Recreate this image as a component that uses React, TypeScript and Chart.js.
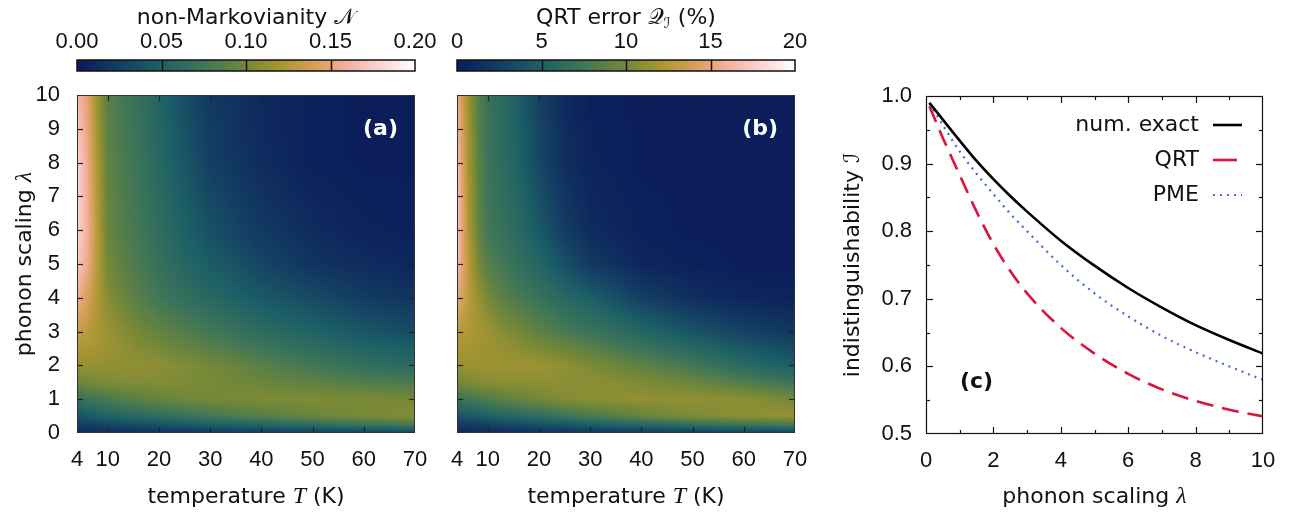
import React, { useEffect, useRef } from "react";
import { Chart, registerables } from "chart.js";

Chart.register(...registerables);

// ---------------- data ----------------
const temperatures = [4, 6, 8, 10, 13, 16, 20, 25, 30, 40, 50, 60, 70];
const lambdaGrid = [0, 0.25, 0.5, 1, 1.5, 2, 2.5, 3, 4, 5, 6, 8, 10];

// rows: lambdaGrid (ascending), columns: temperatures
const nonMarkovianity = [
  [0.008, 0.010, 0.010, 0.012, 0.012, 0.014, 0.016, 0.018, 0.020, 0.022, 0.024, 0.026, 0.028],
  [0.024, 0.026, 0.028, 0.030, 0.034, 0.036, 0.040, 0.044, 0.048, 0.056, 0.064, 0.072, 0.080],
  [0.040, 0.044, 0.048, 0.052, 0.056, 0.060, 0.064, 0.070, 0.076, 0.086, 0.096, 0.102, 0.106],
  [0.066, 0.072, 0.076, 0.080, 0.084, 0.088, 0.094, 0.098, 0.100, 0.104, 0.104, 0.104, 0.100],
  [0.096, 0.100, 0.102, 0.104, 0.106, 0.106, 0.106, 0.104, 0.102, 0.096, 0.090, 0.084, 0.080],
  [0.114, 0.114, 0.114, 0.112, 0.112, 0.112, 0.110, 0.106, 0.100, 0.088, 0.076, 0.066, 0.060],
  [0.124, 0.122, 0.120, 0.116, 0.112, 0.106, 0.102, 0.094, 0.088, 0.074, 0.064, 0.054, 0.048],
  [0.132, 0.128, 0.122, 0.116, 0.108, 0.100, 0.092, 0.084, 0.076, 0.062, 0.052, 0.042, 0.034],
  [0.158, 0.142, 0.124, 0.108, 0.096, 0.086, 0.076, 0.066, 0.058, 0.044, 0.034, 0.024, 0.018],
  [0.172, 0.156, 0.126, 0.100, 0.088, 0.080, 0.068, 0.056, 0.046, 0.030, 0.018, 0.012, 0.008],
  [0.180, 0.160, 0.126, 0.096, 0.084, 0.076, 0.064, 0.050, 0.038, 0.022, 0.012, 0.006, 0.004],
  [0.180, 0.156, 0.122, 0.092, 0.080, 0.072, 0.058, 0.042, 0.026, 0.012, 0.004, 0.002, 0.002],
  [0.164, 0.148, 0.114, 0.088, 0.076, 0.068, 0.054, 0.036, 0.022, 0.010, 0.004, 0.002, 0.002],
];

const qrtError = [
  [0.8, 0.8, 1.0, 1.0, 1.2, 1.2, 1.4, 1.6, 1.8, 2.0, 2.2, 2.4, 2.4],
  [2.2, 2.4, 2.6, 2.8, 3.2, 3.4, 3.8, 4.2, 4.8, 5.8, 6.6, 7.4, 8.0],
  [4.0, 4.4, 4.6, 5.0, 5.4, 5.8, 6.4, 7.2, 8.0, 9.4, 10.4, 11.0, 11.4],
  [7.0, 7.6, 8.0, 8.4, 9.0, 9.4, 10.0, 10.6, 11.0, 11.2, 11.2, 11.0, 10.0],
  [10.0, 10.4, 10.6, 10.8, 11.0, 11.0, 11.0, 11.0, 11.0, 10.4, 9.6, 8.4, 7.2],
  [11.4, 11.6, 11.6, 11.6, 11.6, 11.6, 11.6, 11.2, 10.4, 9.0, 7.6, 6.0, 4.8],
  [12.0, 12.0, 11.8, 11.6, 11.4, 11.0, 10.4, 9.6, 8.8, 7.2, 5.8, 4.4, 3.4],
  [12.8, 12.4, 12.0, 11.6, 10.8, 10.0, 9.0, 8.0, 7.2, 5.6, 4.0, 2.8, 2.0],
  [15.0, 13.2, 11.6, 10.2, 8.8, 8.0, 7.0, 5.8, 4.8, 2.6, 1.4, 0.8, 0.6],
  [16.8, 13.2, 10.4, 8.6, 7.6, 6.6, 5.6, 3.8, 2.2, 0.8, 0.4, 0.2, 0.2],
  [17.2, 12.8, 9.6, 7.6, 6.8, 6.0, 4.4, 2.4, 1.2, 0.4, 0.2, 0.2, 0.2],
  [16.8, 12.4, 9.2, 7.2, 6.2, 5.2, 3.2, 1.4, 0.6, 0.2, 0.2, 0.2, 0.2],
  [15.6, 12.0, 8.8, 7.0, 6.0, 4.8, 2.8, 1.2, 0.4, 0.2, 0.2, 0.2, 0.2],
];

const temperatureTicks = [4, 10, 20, 30, 40, 50, 60, 70];
const lambdaTicks = [0, 1, 2, 3, 4, 5, 6, 7, 8, 9, 10];
const nTicks = [0, 0.05, 0.1, 0.15, 0.2];
const qTicks = [0, 5, 10, 15, 20];

const lambdaSamples = [0.1, 0.5, 1, 1.5, 2, 2.5, 3, 4, 5, 6, 7, 8, 9, 10];
const exactI = [0.990, 0.965, 0.934, 0.904, 0.877, 0.852, 0.829, 0.786, 0.749, 0.716, 0.687, 0.661, 0.639, 0.619];
const qrtI = [0.985, 0.938, 0.883, 0.829, 0.781, 0.741, 0.708, 0.657, 0.619, 0.589, 0.566, 0.549, 0.536, 0.526];
const pmeI = [0.989, 0.957, 0.918, 0.885, 0.855, 0.826, 0.800, 0.750, 0.708, 0.674, 0.645, 0.621, 0.600, 0.580];

const lineXTicks = [0, 2, 4, 6, 8, 10];
const lineXMinor = [1, 3, 5, 7, 9];
const lineYTicks = [0.5, 0.6, 0.7, 0.8, 0.9, 1.0];
const lineYMinor = [0.55, 0.65, 0.75, 0.85, 0.95];

// ---------------- style ----------------
const CMAP: [number, string][] = [
  [0, "#0a1b59"],
  [0.12, "#133c63"],
  [0.25, "#1d6166"],
  [0.37, "#3e7558"],
  [0.5, "#738838"],
  [0.6, "#a69532"],
  [0.68, "#cc9e4e"],
  [0.75, "#e5a676"],
  [0.8, "#f4b0a0"],
  [0.9, "#fcd5d2"],
  [1, "#ffffff"],
];
const hexRgb = (h: string) => [1, 3, 5].map((i) => parseInt(h.slice(i, i + 2), 16));
function cmapRGB(t: number) {
  const v = Math.max(0, Math.min(1, t));
  for (let k = 1; k < CMAP.length; k++) {
    if (v <= CMAP[k][0]) {
      const [p0, c0] = CMAP[k - 1];
      const [p1, c1] = CMAP[k];
      const f = (v - p0) / (p1 - p0);
      const a = hexRgb(c0), b = hexRgb(c1);
      return a.map((x, i) => Math.round(x + (b[i] - x) * f));
    }
  }
  return [255, 255, 255];
}
const LUT = Array.from({ length: 512 }, (_, k) => cmapRGB(k / 511));

const TICK_FONT = { family: "Liberation Sans", size: 22 };
const TXT = "#111";
const TF = '22px "DejaVu Sans"';
const MI = 'italic 24px "Liberation Serif"';
const SC = '22px "DejaVu Sans", "DejaVu Serif", "Noto Sans", serif';
const SCS = '15px "DejaVu Sans", "DejaVu Serif", "Noto Sans", serif';
const BOLD = 'bold 22px "DejaVu Sans"';

type Seg = { t: string; f: string; dy?: number };
function drawRich(ctx: CanvasRenderingContext2D, segs: Seg[], x: number, y: number, align: string, rot = 0, color = TXT) {
  ctx.save();
  ctx.translate(x, y);
  if (rot) ctx.rotate(rot);
  let w = 0;
  const widths = segs.map((s) => {
    ctx.font = s.f;
    const m = ctx.measureText(s.t).width;
    w += m;
    return m;
  });
  let cx = align === "center" ? -w / 2 : align === "right" ? -w : 0;
  ctx.fillStyle = color;
  ctx.textBaseline = "middle";
  ctx.textAlign = "left";
  segs.forEach((s, i) => {
    ctx.font = s.f;
    ctx.fillText(s.t, cx, s.dy || 0);
    cx += widths[i];
  });
  ctx.restore();
}

function seg(ctx: CanvasRenderingContext2D, x0: number, y0: number, x1: number, y1: number) {
  ctx.beginPath();
  ctx.moveTo(x0, y0);
  ctx.lineTo(x1, y1);
  ctx.stroke();
}

const setTicks = (vals: number[]) => (s: any) => {
  s.ticks = vals.map((v) => ({ value: v }));
};
const fitTo = (key: "width" | "height", size: number) => (s: any) => {
  s[key] = size;
  s.paddingLeft = 0;
  s.paddingRight = 0;
  s.paddingTop = 0;
  s.paddingBottom = 0;
};

function locate(arr: number[], v: number): [number, number] {
  let k = 0;
  while (k < arr.length - 2 && v > arr[k + 1]) k++;
  const f = Math.max(0, Math.min(1, (v - arr[k]) / (arr[k + 1] - arr[k])));
  return [k, f];
}

// ---------------- heatmap ----------------
function heatmapConfig(grid: number[][], vmax: number, panel: string, yWidth: number, showY: boolean) {
  const points = lambdaGrid.flatMap((l, j) => temperatures.map((t, i) => ({ x: t, y: l, v: grid[j][i] })));
  const plugin = {
    id: "heat",
    beforeDatasetsDraw(chart: any) {
      const { ctx, chartArea: a, scales } = chart;
      const xs = scales.x, ys = scales.y;
      const nT = temperatures.length;
      const pts = chart.data.datasets[0].data;
      const val = (i: number, j: number) => pts[j * nT + i].v;
      const x0 = Math.round(a.left), y0 = Math.round(a.top);
      const w = Math.round(a.right) - x0, h = Math.round(a.bottom) - y0;
      const img = ctx.createImageData(w, h);
      const cols = Array.from({ length: w }, (_, px) => locate(temperatures, xs.getValueForPixel(x0 + px + 0.5)));
      for (let py = 0; py < h; py++) {
        const [j, fy] = locate(lambdaGrid, ys.getValueForPixel(y0 + py + 0.5));
        for (let px = 0; px < w; px++) {
          const [i, fx] = cols[px];
          const v =
            (1 - fx) * (1 - fy) * val(i, j) +
            fx * (1 - fy) * val(i + 1, j) +
            (1 - fx) * fy * val(i, j + 1) +
            fx * fy * val(i + 1, j + 1);
          const c = LUT[Math.max(0, Math.min(511, Math.round((v / vmax) * 511)))];
          const o = (py * w + px) * 4;
          img.data[o] = c[0];
          img.data[o + 1] = c[1];
          img.data[o + 2] = c[2];
          img.data[o + 3] = 255;
        }
      }
      ctx.putImageData(img, x0, y0);
    },
    afterDatasetsDraw(chart: any) {
      const { ctx, chartArea: a, scales } = chart;
      const xs = scales.x, ys = scales.y;
      ctx.save();
      ctx.strokeStyle = "#222";
      ctx.lineWidth = 1.2;
      const L = 6;
      temperatureTicks.filter((v) => v > 4 && v < 70).forEach((v) => {
        const px = Math.round(xs.getPixelForValue(v)) + 0.5;
        seg(ctx, px, a.bottom, px, a.bottom - L);
        seg(ctx, px, a.top, px, a.top + L);
      });
      lambdaTicks.filter((v) => v > 0 && v < 10).forEach((v) => {
        const py = Math.round(ys.getPixelForValue(v)) + 0.5;
        seg(ctx, a.left, py, a.left + L, py);
        seg(ctx, a.right, py, a.right - L, py);
      });
      ctx.strokeStyle = "#333";
      ctx.lineWidth = 1;
      ctx.strokeRect(Math.round(a.left) + 0.5, Math.round(a.top) + 0.5, Math.round(a.width) - 1, Math.round(a.height) - 1);
      ctx.restore();
      drawRich(ctx, [{ t: panel, f: BOLD }], a.right - 17, a.top + 34, "right", 0, "#fff");
      const cx = (a.left + a.right) / 2;
      drawRich(ctx, [{ t: "temperature ", f: TF }, { t: "T", f: MI }, { t: " (K)", f: TF }], cx, a.bottom + 64, "center");
      if (showY) {
        drawRich(ctx, [{ t: "phonon scaling ", f: TF }, { t: "λ", f: MI }], 25, (a.top + a.bottom) / 2, "center", -Math.PI / 2);
      }
    },
  };
  return {
    type: "scatter",
    data: { datasets: [{ data: points, pointRadius: 0 }] },
    plugins: [plugin],
    options: {
      responsive: false,
      devicePixelRatio: 1,
      animation: false,
      events: [],
      layout: { padding: { top: 15, right: 15, left: 0, bottom: 0 } },
      plugins: { legend: { display: false }, tooltip: { enabled: false } },
      scales: {
        x: {
          type: "linear",
          min: 4,
          max: 70,
          afterBuildTicks: setTicks(temperatureTicks),
          afterFit: fitTo("height", 81),
          grid: { display: false, drawTicks: false },
          border: { display: false },
          ticks: { font: TICK_FONT, color: TXT, padding: 14, maxRotation: 0, autoSkip: false, callback: (v: any) => String(v) },
        },
        y: {
          type: "linear",
          min: 0,
          max: 10,
          afterBuildTicks: setTicks(lambdaTicks),
          afterFit: fitTo("width", yWidth),
          grid: { display: false, drawTicks: false },
          border: { display: false },
          ticks: { display: showY, font: TICK_FONT, color: TXT, padding: 17, autoSkip: false, callback: (v: any) => String(v) },
        },
      },
    },
  };
}

// ---------------- colorbar ----------------
function colorbarConfig(ticks: number[], fmt: (v: number) => string, title: Seg[]) {
  const vmin = ticks[0], vmax = ticks[ticks.length - 1];
  const plugin = {
    id: "cbar",
    beforeDatasetsDraw(chart: any) {
      const { ctx, chartArea: a, scales } = chart;
      const xs = scales.x;
      const g = ctx.createLinearGradient(xs.getPixelForValue(vmin), 0, xs.getPixelForValue(vmax), 0);
      CMAP.forEach(([p, c]) => g.addColorStop(p, c));
      ctx.save();
      ctx.fillStyle = g;
      ctx.fillRect(a.left, a.top, a.width, a.height);
      ctx.strokeStyle = "#111";
      ctx.lineWidth = 1.5;
      ticks.slice(1, -1).forEach((v) => {
        const px = Math.round(xs.getPixelForValue(v)) + 0.5;
        seg(ctx, px, a.top, px, a.bottom);
      });
      ctx.strokeRect(a.left, a.top, a.width, a.height);
      ctx.restore();
      drawRich(ctx, title, (a.left + a.right) / 2, 18, "center");
    },
  };
  return {
    type: "scatter",
    data: { datasets: [] },
    plugins: [plugin],
    options: {
      responsive: false,
      devicePixelRatio: 1,
      animation: false,
      events: [],
      layout: { padding: { top: 0, right: 45, left: 37, bottom: 9 } },
      plugins: { legend: { display: false }, tooltip: { enabled: false } },
      scales: {
        x: {
          type: "linear",
          position: "top",
          min: vmin,
          max: vmax,
          afterBuildTicks: setTicks(ticks),
          afterFit: fitTo("height", 60),
          grid: { display: false, drawTicks: false },
          border: { display: false },
          ticks: { font: TICK_FONT, color: TXT, padding: 5, maxRotation: 0, autoSkip: false, callback: (v: any) => fmt(Number(v)) },
        },
        y: { display: false, min: 0, max: 1 },
      },
    },
  };
}

// ---------------- line chart ----------------
function lineConfig() {
  const mk = (vals: number[]) => lambdaSamples.map((l, i) => ({ x: l, y: vals[i] }));
  const datasets = [
    { label: "num. exact", data: mk(exactI), borderColor: "#000000", borderWidth: 2.6, borderDash: [] as number[] },
    { label: "QRT", data: mk(qrtI), borderColor: "#dc143c", borderWidth: 2.6, borderDash: [17, 9] },
    { label: "PME", data: mk(pmeI), borderColor: "#4169e1", borderWidth: 2.2, borderDash: [2, 5] },
  ].map((d) => ({ ...d, pointRadius: 0, tension: 0.4, cubicInterpolationMode: "monotone", fill: false, borderCapStyle: "butt" }));
  const plugin = {
    id: "lineFrame",
    afterDatasetsDraw(chart: any) {
      const { ctx, chartArea: a, scales } = chart;
      const xs = scales.x, ys = scales.y;
      ctx.save();
      ctx.strokeStyle = "#111";
      ctx.lineWidth = 1.2;
      const LM = 7, Lm = 4;
      const xt = (v: number, L: number) => {
        const px = Math.round(xs.getPixelForValue(v)) + 0.5;
        seg(ctx, px, a.bottom, px, a.bottom - L);
        seg(ctx, px, a.top, px, a.top + L);
      };
      const yt = (v: number, L: number) => {
        const py = Math.round(ys.getPixelForValue(v)) + 0.5;
        seg(ctx, a.left, py, a.left + L, py);
        seg(ctx, a.right, py, a.right - L, py);
      };
      lineXTicks.slice(1, -1).forEach((v) => xt(v, LM));
      lineXMinor.forEach((v) => xt(v, Lm));
      lineYTicks.slice(1, -1).forEach((v) => yt(v, LM));
      lineYMinor.forEach((v) => yt(v, Lm));
      ctx.strokeRect(Math.round(a.left) + 0.5, Math.round(a.top) + 0.5, Math.round(a.width) - 1, Math.round(a.height) - 1);
      // legend
      chart.data.datasets.forEach((d: any, i: number) => {
        const y = a.top + 29 + i * 35;
        drawRich(ctx, [{ t: d.label, f: TF }], a.right - 64, y, "right");
        ctx.save();
        ctx.strokeStyle = d.borderColor;
        ctx.lineWidth = d.borderWidth;
        const dashed = d.borderDash.length > 0 && d.borderDash[0] > 5;
        ctx.setLineDash(dashed ? [] : d.borderDash);
        seg(ctx, a.right - 50, y, dashed ? a.right - 26 : a.right - 21, y);
        ctx.restore();
      });
      ctx.restore();
      drawRich(ctx, [{ t: "(c)", f: BOLD }], a.left + 34, a.top + 286, "left", 0, "#111");
      drawRich(ctx, [{ t: "phonon scaling ", f: TF }, { t: "λ", f: MI }], (a.left + a.right) / 2, a.bottom + 63, "center");
      drawRich(ctx, [{ t: "indistinguishability ", f: TF }, { t: "ℐ", f: SC }], 23, (a.top + a.bottom) / 2, "center", -Math.PI / 2);
    },
  };
  return {
    type: "line",
    data: { datasets },
    plugins: [plugin],
    options: {
      responsive: false,
      devicePixelRatio: 1,
      animation: false,
      events: [],
      layout: { padding: { top: 16, right: 27, left: 0, bottom: 0 } },
      plugins: { legend: { display: false }, tooltip: { enabled: false } },
      scales: {
        x: {
          type: "linear",
          min: 0,
          max: 10,
          afterBuildTicks: setTicks(lineXTicks),
          afterFit: fitTo("height", 80),
          grid: { display: false, drawTicks: false },
          border: { display: false },
          ticks: { font: TICK_FONT, color: TXT, padding: 14, maxRotation: 0, autoSkip: false, callback: (v: any) => String(v) },
        },
        y: {
          type: "linear",
          min: 0.5,
          max: 1.0,
          afterBuildTicks: setTicks(lineYTicks),
          afterFit: fitTo("width", 96),
          grid: { display: false, drawTicks: false },
          border: { display: false },
          ticks: { font: TICK_FONT, color: TXT, padding: 14, autoSkip: false, callback: (v: any) => Number(v).toFixed(1) },
        },
      },
    },
  };
}

// ---------------- components ----------------
function ChartBox({ left, top, width, height, make }: { left: number; top: number; width: number; height: number; make: () => any }) {
  const ref = useRef<HTMLCanvasElement>(null);
  useEffect(() => {
    const chart = new Chart(ref.current as HTMLCanvasElement, make());
    return () => chart.destroy();
  }, []);
  return (
    <canvas
      ref={ref}
      width={width}
      height={height}
      style={{ position: "absolute", left, top, width, height, display: "block" }}
    />
  );
}

export default function App() {
  return (
    <div style={{ position: "absolute", left: 0, top: 0, width: 1290, height: 514, background: "#fff", overflow: "hidden" }}>
      <ChartBox
        left={40}
        top={0}
        width={420}
        height={80}
        make={() => colorbarConfig(nTicks, (v) => v.toFixed(2), [{ t: "non-Markovianity ", f: TF }, { t: "𝒩", f: SC }])}
      />
      <ChartBox
        left={420}
        top={0}
        width={420}
        height={80}
        make={() =>
          colorbarConfig(qTicks, (v) => String(v), [
            { t: "QRT error ", f: TF },
            { t: "𝒬", f: SC },
            { t: "ℐ", f: SCS, dy: 6 },
            { t: " (%)", f: TF },
          ])
        }
      />
      <ChartBox left={0} top={80} width={430} height={434} make={() => heatmapConfig(nonMarkovianity, 0.2, "(a)", 77, true)} />
      <ChartBox left={430} top={80} width={380} height={434} make={() => heatmapConfig(qrtError, 20, "(b)", 27, false)} />
      <ChartBox left={830} top={80} width={460} height={434} make={lineConfig} />
    </div>
  );
}
